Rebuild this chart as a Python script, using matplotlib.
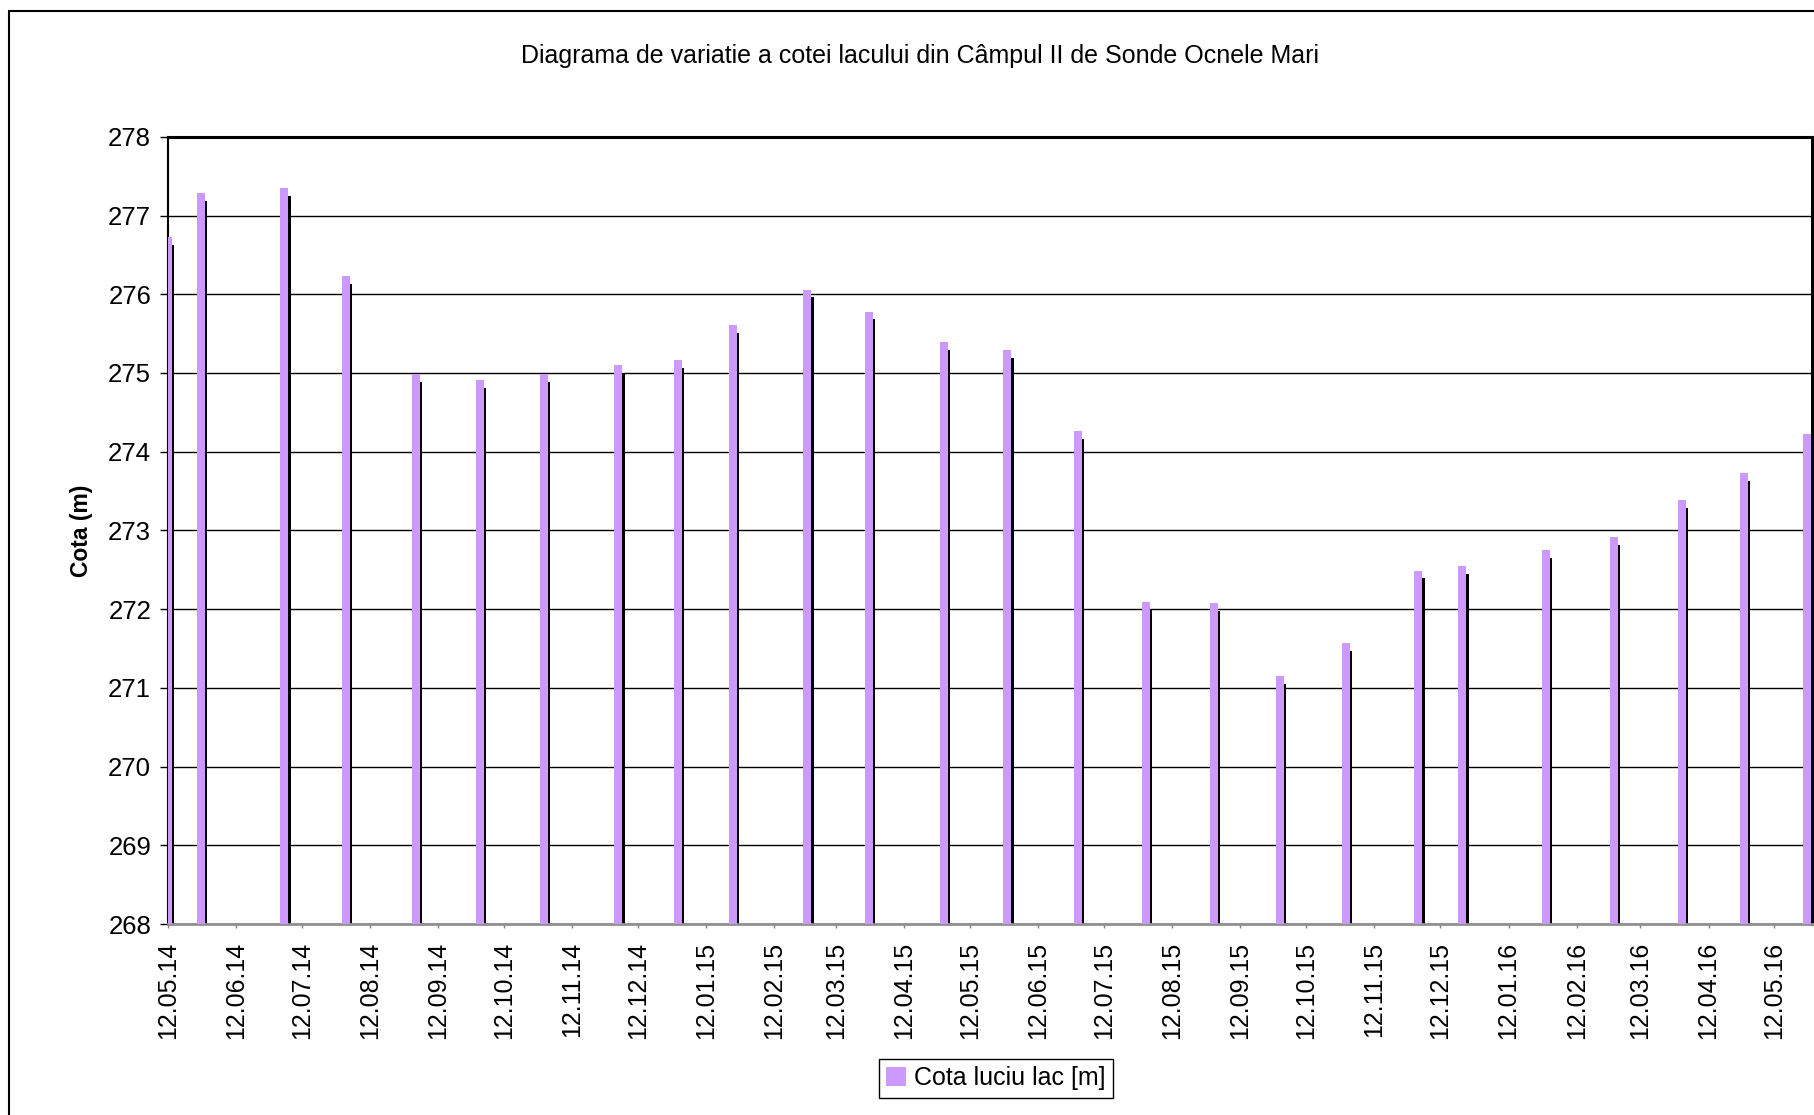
import matplotlib
matplotlib.use("Agg")
import matplotlib.pyplot as plt
import matplotlib.dates as mdates
from matplotlib.patches import Patch, Rectangle
import pandas as pd
import numpy as np

plt.rcParams['font.family'] = ['Liberation Sans', 'DejaVu Sans']

# ---- data ----
measure_dates = ["12.05.2014", "27.05.2014", "04.07.2014", "01.08.2014", "02.09.2014",
                 "01.10.2014", "30.10.2014", "03.12.2014", "30.12.2014", "24.01.2015",
                 "27.02.2015", "27.03.2015", "30.04.2015", "29.05.2015", "30.06.2015",
                 "31.07.2015", "31.08.2015", "30.09.2015", "30.10.2015", "02.12.2015",
                 "22.12.2015", "29.01.2016", "29.02.2016", "31.03.2016", "28.04.2016",
                 "27.05.2016"]
lake_level = [276.73, 277.28, 277.35, 276.23, 274.99, 274.91, 274.99, 275.10, 275.16, 275.61,
              276.06, 275.78, 275.39, 275.29, 274.26, 272.09, 272.08, 271.15, 271.57, 272.49,
              272.55, 272.75, 272.92, 273.38, 273.73, 274.22]
tick_labels = ["12.05.14", "12.06.14", "12.07.14", "12.08.14", "12.09.14", "12.10.14",
               "12.11.14", "12.12.14", "12.01.15", "12.02.15", "12.03.15", "12.04.15",
               "12.05.15", "12.06.15", "12.07.15", "12.08.15", "12.09.15", "12.10.15",
               "12.11.15", "12.12.15", "12.01.16", "12.02.16", "12.03.16", "12.04.16",
               "12.05.16"]
y_ticks = [268, 269, 270, 271, 272, 273, 274, 275, 276, 277, 278]

title = "Diagrama de variatie a cotei lacului din Câmpul II de Sonde Ocnele Mari"
series_name = "Cota luciu lac [m]"
y_label = "Cota (m)"

# ---- figure ----
W, H = 1815, 1115
fig = plt.figure(figsize=(W / 100, H / 100), dpi=100)
ax = fig.add_axes([167.8 / W, 1 - 924 / H, (1812.5 - 167.8) / W, (924 - 136.8) / H])

x = mdates.date2num(pd.to_datetime(measure_dates, format="%d.%m.%Y"))
vals = np.array(lake_level)
base = y_ticks[0]

purple = "#CC99FF"
bw = 3.65
# shadow (offset right and slightly lower)
ax.bar(x + 1.05, vals - 0.1 - base, bottom=base, width=bw, color="black", zorder=2, linewidth=0)
ax.bar(x, vals - base, bottom=base, width=bw, color=purple, zorder=3, linewidth=0)

ax.set_ylim(y_ticks[0], y_ticks[-1])
ax.set_yticks(y_ticks)
ax.set_xlim(x[0], x[-1] + 2.3)
tick_pos = mdates.date2num(pd.to_datetime(tick_labels, format="%d.%m.%y"))
ax.set_xticks(tick_pos)
ax.set_xticklabels(tick_labels, rotation=90)

ax.yaxis.grid(True, color="black", linewidth=1.0)
ax.set_axisbelow(True)

ax.tick_params(axis="y", direction="out", length=6, width=1, pad=6.0, labelsize=18.5, colors="black")
ax.tick_params(axis="x", direction="out", length=3, width=1, pad=10, labelsize=18,
               color="#808080", labelcolor="black")

for side in ("top", "right"):
    ax.spines[side].set_color("black")
    ax.spines[side].set_linewidth(2.2)
ax.spines["left"].set_color("black")
ax.spines["left"].set_linewidth(1.5)
ax.spines["bottom"].set_color("#909090")
ax.spines["bottom"].set_linewidth(2)

ax.set_ylabel(y_label, fontsize=16.5, fontweight="bold")
ax.yaxis.set_label_coords((93 - 167.8) / (1812.5 - 167.8), 0.5)

fig.text(920 / W, 1 - 55.5 / H, title, ha="center", va="center", fontsize=18)

# outer chart border
fig.patches.append(Rectangle((9 / W, -0.2), 1.5, 1 - 11 / H + 0.2, transform=fig.transFigure,
                             fill=False, edgecolor="black", linewidth=1.5))

leg = fig.legend([Patch(facecolor=purple, edgecolor="none")], [series_name],
                 loc="center", bbox_to_anchor=(996 / W, 1 - 1078 / H), frameon=True,
                 fancybox=False, edgecolor="black", fontsize=18, handlelength=0.8,
                 handleheight=0.8, handletextpad=0.3, borderpad=0.3, framealpha=1)
leg.get_frame().set_linewidth(1.0)

fig.savefig("out.png", dpi=100)
